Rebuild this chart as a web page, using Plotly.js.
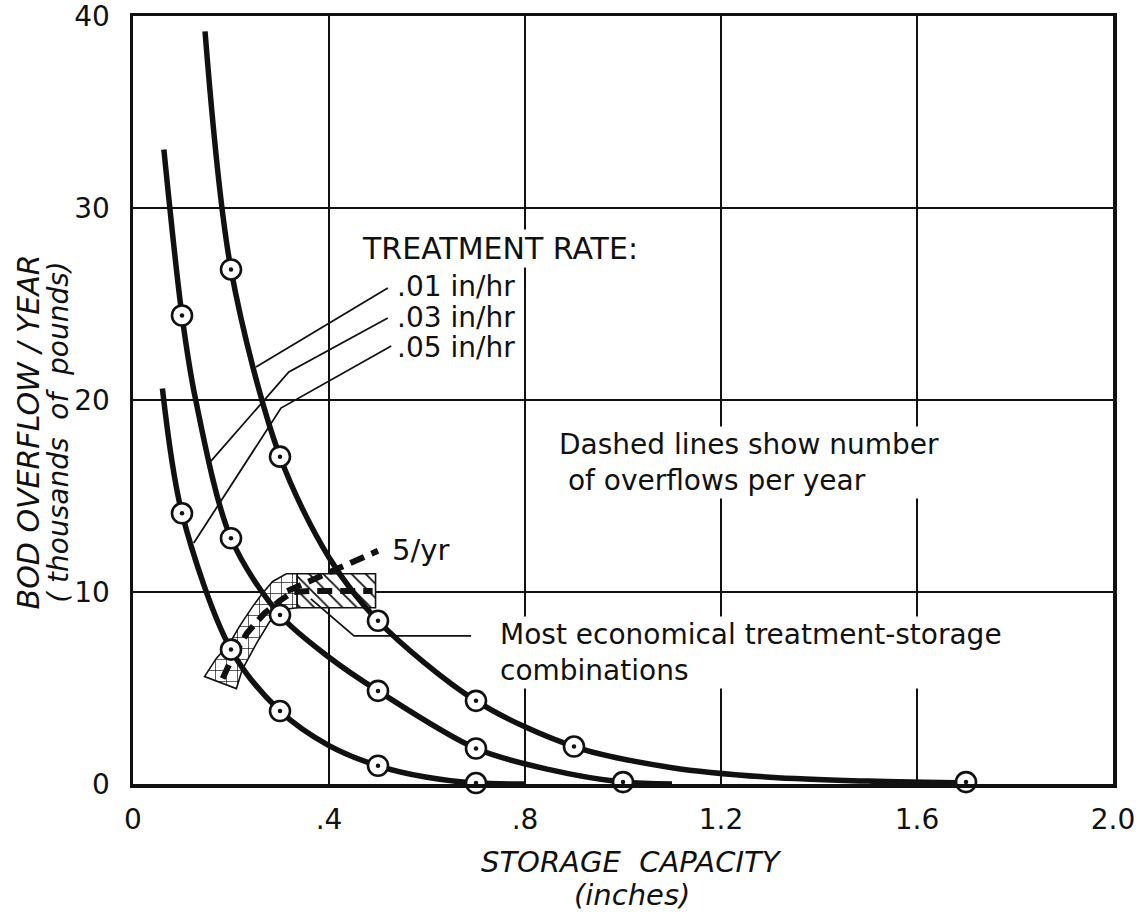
<!DOCTYPE html>
<html><head><meta charset="utf-8">
<script src="https://cdn.plot.ly/plotly-3.0.1.min.js"></script>
<style>html,body{margin:0;padding:0;background:#fff}</style>
</head><body>
<div id="chart" style="width:1146px;height:914px"></div>
<script>
// ---- axes ----
const xTickVals = [0, 0.4, 0.8, 1.2, 1.6, 2.0];
const xTickText = ['0', '.4', '.8', '1.2', '1.6', '2.0'];
const yTickVals = [0, 10, 20, 30, 40];
const yTickText = ['0', '10', '20', '30', '40'];

// ---- treatment rate .01 in/hr (top curve) ----
const rate01LineX = [0.147, 0.2, 0.3, 0.4, 0.5, 0.7, 0.9, 1.1, 1.3, 1.5, 1.72];
const rate01LineY = [39.2, 26.8, 17.05, 11.8, 8.5, 4.33, 1.95, 0.85, 0.35, 0.15, 0.05];
const rate01PtsX = [0.2, 0.3, 0.5, 0.7, 0.9, 1.7];
const rate01PtsY = [26.8, 17.05, 8.5, 4.33, 1.95, 0.1];

// ---- treatment rate .03 in/hr (middle curve) ----
const rate03LineX = [0.063, 0.1, 0.128, 0.2, 0.3, 0.4, 0.5, 0.7, 0.85, 1.0, 1.1];
const rate03LineY = [33.05, 24.4, 20.0, 12.8, 8.8, 6.6, 4.85, 1.85, 0.75, 0.1, 0.0];
const rate03PtsX = [0.1, 0.2, 0.3, 0.5, 0.7, 1.0];
const rate03PtsY = [24.4, 12.8, 8.8, 4.85, 1.85, 0.1];

// ---- treatment rate .05 in/hr (bottom curve) ----
const rate05LineX = [0.06, 0.1, 0.2, 0.3, 0.4, 0.5, 0.6, 0.7, 0.8];
const rate05LineY = [20.6, 14.1, 7.0, 3.8, 2.0, 0.95, 0.35, 0.05, 0.0];
const rate05PtsX = [0.1, 0.2, 0.3, 0.5, 0.7];
const rate05PtsY = [14.1, 7.0, 3.8, 0.95, 0.05];

// ---- most economical treatment-storage band ----
const bandArcX = [0.335, 0.313, 0.285, 0.264, 0.244, 0.217, 0.197, 0.170, 0.146, 0.211, 0.223, 0.252, 0.279, 0.305, 0.335, 0.335];
const bandArcY = [10.95, 10.95, 10.55, 9.92, 9.24, 8.2, 7.32, 6.54, 5.6, 4.97, 5.96, 7.32, 8.46, 9.09, 9.18, 10.95];
const bandRectX = [0.335, 0.495, 0.495, 0.335, 0.335];
const bandRectY = [9.18, 9.18, 10.95, 10.95, 9.18];

// ---- 5 overflows / yr dashed lines ----
const dash5X = [0.183, 0.197, 0.232, 0.268, 0.300, 0.326, 0.36, 0.489];
const dash5Y = [5.49, 6.28, 7.84, 8.88, 9.55, 10.0, 10.05, 10.05];
const dash5bX = [0.315, 0.50];
const dash5bY = [10.05, 12.15];

// ---- leader lines ----
const lead01X = [0.52, 0.251];
const lead01Y = [25.83, 21.72];
const lead03X = [0.52, 0.318, 0.159];
const lead03Y = [24.27, 21.46, 16.82];
const lead05X = [0.527, 0.302, 0.124];
const lead05Y = [22.81, 19.58, 12.55];
const leadBandX = [0.69, 0.451, 0.363];
const leadBandY = [7.71, 7.71, 9.64];

const FONT = 'DejaVu Sans, Arial, sans-serif';
const INK = '#111';

function curve(x, y) {
  return {x: x, y: y, mode: 'lines', type: 'scatter', hoverinfo: 'skip',
    line: {color: INK, width: 5.5, shape: 'spline', smoothing: 0.9}};
}
function rings(x, y) {
  return {x: x, y: y, mode: 'markers', type: 'scatter', hoverinfo: 'skip', cliponaxis: false,
    marker: {symbol: 'circle', size: 20, color: 'white', line: {color: INK, width: 2.6}}};
}
function dots(x, y) {
  return {x: x, y: y, mode: 'markers', type: 'scatter', hoverinfo: 'skip', cliponaxis: false,
    marker: {symbol: 'circle', size: 4.5, color: INK, line: {width: 0}}};
}
function thin(x, y) {
  return {x: x, y: y, mode: 'lines', type: 'scatter', hoverinfo: 'skip',
    line: {color: INK, width: 1.8}};
}

const traces = [
  {x: bandArcX, y: bandArcY, mode: 'lines', type: 'scatter', fill: 'toself', hoverinfo: 'skip',
   fillcolor: 'white', fillpattern: {shape: '+', size: 11, solidity: 0.12, fgcolor: INK, bgcolor: 'white'},
   line: {color: INK, width: 1.6}},
  {x: bandRectX, y: bandRectY, mode: 'lines', type: 'scatter', fill: 'toself', hoverinfo: 'skip',
   fillcolor: 'white', fillpattern: {shape: '\\', size: 10, solidity: 0.18, fgcolor: INK, bgcolor: 'white'},
   line: {color: INK, width: 1.6}},
  thin(lead01X, lead01Y), thin(lead03X, lead03Y), thin(lead05X, lead05Y), thin(leadBandX, leadBandY),
  curve(rate01LineX, rate01LineY), curve(rate03LineX, rate03LineY), curve(rate05LineX, rate05LineY),
  {x: dash5X, y: dash5Y, mode: 'lines', type: 'scatter', hoverinfo: 'skip',
   line: {color: INK, width: 6, dash: '15px,8px'}},
  {x: dash5bX, y: dash5bY, mode: 'lines', type: 'scatter', hoverinfo: 'skip',
   line: {color: INK, width: 6, dash: '15px,8px'}},
  rings(rate01PtsX, rate01PtsY), rings(rate03PtsX, rate03PtsY), rings(rate05PtsX, rate05PtsY),
  dots(rate01PtsX, rate01PtsY), dots(rate03PtsX, rate03PtsY), dots(rate05PtsX, rate05PtsY)
];

function label(text, x, y, size, opts) {
  return Object.assign({text: text, x: x, y: y, xref: 'x', yref: 'y', showarrow: false,
    xanchor: 'left', yanchor: 'middle', align: 'left', bgcolor: 'white', borderpad: 1,
    font: {family: FONT, size: size, color: INK}}, opts || {});
}

const annotations = [
  label('TREATMENT RATE:', 0.463, 27.9, 30),
  label('.01 in/hr', 0.535, 25.9, 28),
  label('.03 in/hr', 0.535, 24.3, 28),
  label('.05 in/hr', 0.535, 22.75, 28),
  label('Dashed lines show number<br>&nbsp;of overflows per year', 0.865, 16.75, 28),
  label('5/yr', 0.524, 12.2, 29, {bgcolor: 'rgba(0,0,0,0)'}),
  label('Most economical treatment-storage<br>combinations', 0.745, 6.85, 28),
  {text: '<i>BOD OVERFLOW / YEAR</i>', x: -0.107, y: 0.458, xref: 'paper', yref: 'paper',
   showarrow: false, textangle: -90, xanchor: 'center', yanchor: 'middle',
   font: {family: FONT, size: 30, color: INK}},
  {text: '<i>( thousands  of  pounds)</i>', x: -0.076, y: 0.458, xref: 'paper', yref: 'paper',
   showarrow: false, textangle: -90, xanchor: 'center', yanchor: 'middle',
   font: {family: FONT, size: 28, color: INK}},
  {text: '<i>STORAGE  CAPACITY</i>', x: 0.509, y: -0.101, xref: 'paper', yref: 'paper',
   showarrow: false, xanchor: 'center', yanchor: 'middle',
   font: {family: FONT, size: 29, color: INK}},
  {text: '<i>(inches)</i>', x: 0.509, y: -0.144, xref: 'paper', yref: 'paper',
   showarrow: false, xanchor: 'center', yanchor: 'middle',
   font: {family: FONT, size: 29, color: INK}}
];

const axisCommon = {
  showgrid: true, gridcolor: INK, gridwidth: 1.5, zeroline: false,
  showline: true, mirror: true, linecolor: INK, linewidth: 3.5,
  ticks: '', tickfont: {family: FONT, size: 28, color: INK}, fixedrange: true,
  ticklabeloverflow: 'allow'
};

const layout = {
  width: 1146, height: 914,
  margin: {l: 133, r: 33, t: 16, b: 130},
  paper_bgcolor: 'white', plot_bgcolor: 'white',
  showlegend: false, hovermode: false,
  xaxis: Object.assign({}, axisCommon, {range: [0, 2], tickmode: 'array', tickvals: xTickVals, ticktext: xTickText, ticklabelstandoff: 8}),
  yaxis: Object.assign({}, axisCommon, {range: [0, 40], tickmode: 'array', tickvals: yTickVals, ticktext: yTickText, ticklabelstandoff: 14}),
  annotations: annotations
};

Plotly.newPlot('chart', traces, layout, {displayModeBar: false, staticPlot: true});
</script>
</body></html>
